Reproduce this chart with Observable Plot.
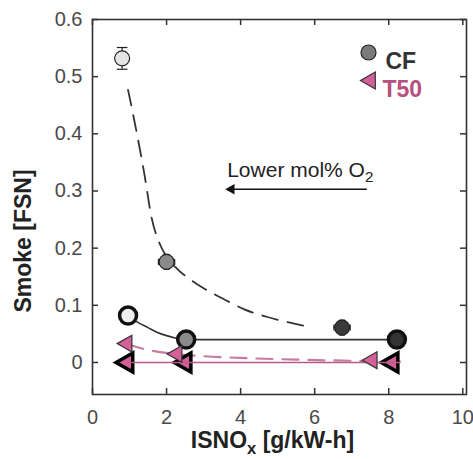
<!DOCTYPE html>
<html><head><meta charset="utf-8">
<script src="https://cdn.jsdelivr.net/npm/d3@7"></script>
<script src="https://cdn.jsdelivr.net/npm/@observablehq/plot@0.6"></script>
<style>body{margin:0;background:#fff}</style>
</head><body><div id="chart"></div>
<script>
// ---- tick labels ----
const xTicks = [0, 2, 4, 6, 8, 10];
const yTicks = [0, 0.1, 0.2, 0.3, 0.4, 0.5, 0.6];

// ---- CF, dashed-fit series (filled circles with error bars) ----
const cfDashX = [0.8, 2.0, 6.74];
const cfDashY = [0.532, 0.176, 0.061];
const cfDashErrY = [0.019, 0.013, 0.013];
const cfDashErrX = [0, 0.22, 0.22];
const cfDashFill = ["#e4e4e4", "#8a8a8a", "#3a3a3a"];
const cfDashFitX = [0.96, 1.2, 1.4, 1.6, 1.8, 2.0, 2.3, 2.6, 3.0, 3.6, 4.1, 4.7, 5.3, 5.9];
const cfDashFitY = [0.477, 0.40, 0.33, 0.252, 0.21, 0.185, 0.163, 0.147, 0.130, 0.109, 0.093, 0.080, 0.070, 0.062];

// ---- CF, solid-fit series (thick outlined circles) ----
const cfSolidX = [0.96, 2.53, 8.22];
const cfSolidY = [0.082, 0.040, 0.040];
const cfSolidFill = ["#eeeeee", "#8a8a8a", "#333333"];
const cfSolidFitX = [0.96, 1.2, 1.5, 1.74, 2.0, 2.23, 2.53, 8.22];
const cfSolidFitY = [0.082, 0.071, 0.061, 0.053, 0.047, 0.043, 0.040, 0.040];

// ---- T50, dashed-fit series (thin outlined triangles) ----
const t50DashX = [0.88, 2.23, 7.5];
const t50DashY = [0.033, 0.015, 0.004];
const t50DashFitX = [0.95, 1.5, 2.23, 3.0, 4.0, 5.5, 7.0, 8.3];
const t50DashFitY = [0.032, 0.022, 0.015, 0.011, 0.008, 0.005, 0.003, 0.002];

// ---- T50, solid-fit series (thick outlined triangles) ----
const t50SolidX = [0.88, 2.45, 8.04];
const t50SolidY = [0, 0, 0];
const t50SolidFitX = [1.0, 8.3];
const t50SolidFitY = [0, 0];

// ---- legend / annotation ----
const legendLabels = ["CF", "T50"];
const annotationText = "Lower mol% O_{2}";
const arrowFrom = 7.42, arrowTo = 3.72, arrowY = 0.303;
const annotationX = 5.61, annotationY = 0.337;

const pink = "#d4609a";
const pinkLine = "#b85a88";
const pinkText = "#b5507f";

const xDomain = [0, 10.1];
const yDomain = [-0.056, 0.6];
const W = 473, H = 459, mL = 92, mR = 7, mT = 19, mB = 65;

const zipXY = (xs, ys, extra = {}) => xs.map((x, i) => {
  const o = {x, y: ys[i]};
  for (const k in extra) o[k] = extra[k][i];
  return o;
});

const cfDash = zipXY(cfDashX, cfDashY, {ey: cfDashErrY, ex: cfDashErrX, fill: cfDashFill});
const cfDashFit = zipXY(cfDashFitX, cfDashFitY);
const cfSolid = zipXY(cfSolidX, cfSolidY, {fill: cfSolidFill});
const cfSolidFit = zipXY(cfSolidFitX, cfSolidFitY);
const t50Dash = zipXY(t50DashX, t50DashY);
const t50DashFit = zipXY(t50DashFitX, t50DashFitY);
const t50Solid = zipXY(t50SolidX, t50SolidY);
const t50SolidFit = zipXY(t50SolidFitX, t50SolidFitY);

// error bar caps
const capsV = [], capsH = [];
cfDash.forEach((d, i) => {
  const w = i === 0 ? 11 : 3.5;
  capsV.push({x: d.x, y: d.y + d.ey, w}, {x: d.x, y: d.y - d.ey, w});
  if (d.ex > 0) capsH.push({x: d.x + d.ex, y: d.y, w: 3.5}, {x: d.x - d.ex, y: d.y, w: 3.5});
});

// custom symbols
const rOf = size => Math.sqrt(size / Math.PI);
const triLeft = {draw(ctx, size) {
  const r = rOf(size);
  ctx.moveTo(-r, 0); ctx.lineTo(r * 0.85, -r * 1.05); ctx.lineTo(r * 0.85, r * 1.05); ctx.closePath();
}};
const capHoriz = {draw(ctx, size) { const r = rOf(size); ctx.moveTo(-r, 0); ctx.lineTo(r, 0); }};
const capVert = {draw(ctx, size) { const r = rOf(size); ctx.moveTo(0, -r); ctx.lineTo(0, r); }};

// inward tick length, expressed through the scales' px-per-unit
const T = 6;
const dyT = T * (yDomain[1] - yDomain[0]) / (H - mT - mB);
const dxT = T * (xDomain[1] - xDomain[0]) / (W - mL - mR);
const tickStroke = {stroke: "#333", strokeWidth: 1.5};

const font = "'Liberation Sans', Arial, Helvetica, sans-serif";

const svg = Plot.plot({
  width: W,
  height: H,
  marginLeft: mL,
  marginRight: mR,
  marginTop: mT,
  marginBottom: mB,
  style: {fontFamily: font, background: "white", overflow: "visible"},
  x: {domain: xDomain},
  y: {domain: yDomain},
  marks: [
    // tick labels
    Plot.axisX(xTicks, {anchor: "bottom", tickSize: 0, tickPadding: 15, fontSize: 20, fill: "#4a4a4a", label: null}),
    Plot.axisY(yTicks, {anchor: "left", tickSize: 0, tickPadding: 10, fontSize: 20, fill: "#4a4a4a", label: null,
      tickFormat: d => d === 0 ? "0" : d.toFixed(1)}),
    // inward ticks on all four sides
    Plot.ruleX(xTicks, {x: d => d, y1: yDomain[0], y2: yDomain[0] + dyT, ...tickStroke}),
    Plot.ruleX(xTicks, {x: d => d, y1: yDomain[1] - dyT, y2: yDomain[1], ...tickStroke}),
    Plot.ruleY(yTicks, {y: d => d, x1: xDomain[0], x2: xDomain[0] + dxT, ...tickStroke}),
    Plot.ruleY(yTicks, {y: d => d, x1: xDomain[1] - dxT, x2: xDomain[1], ...tickStroke}),

    // fit lines
    Plot.line(cfDashFit, {x: "x", y: "y", curve: "monotone-x", stroke: "#333", strokeWidth: 1.8, strokeDasharray: "16,10"}),
    Plot.line(t50DashFit, {x: "x", y: "y", curve: "monotone-x", stroke: pinkLine, strokeWidth: 2.2, strokeDasharray: "16,10", strokeOpacity: 0.8}),
    Plot.line(cfSolidFit, {x: "x", y: "y", curve: "monotone-x", stroke: "#333", strokeWidth: 1.6}),

    // error bars
    Plot.ruleX(cfDash, {x: "x", y1: d => d.y - d.ey, y2: d => d.y + d.ey, stroke: "#222", strokeWidth: 1.2}),
    Plot.ruleY(cfDash.filter(d => d.ex > 0), {y: "y", x1: d => d.x - d.ex, x2: d => d.x + d.ex, stroke: "#222", strokeWidth: 1.2}),
    Plot.dot(capsV, {x: "x", y: "y", r: "w", symbol: capHoriz, stroke: "#222", strokeWidth: 1.2, fill: "none"}),
    Plot.dot(capsH, {x: "x", y: "y", r: "w", symbol: capVert, stroke: "#222", strokeWidth: 1.2, fill: "none"}),

    // CF circles
    Plot.dot(cfDash, {x: "x", y: "y", r: 7.5, fill: "fill", stroke: "#222", strokeWidth: 1.2}),
    Plot.dot(cfSolid, {x: "x", y: "y", r: 8.5, fill: "fill", stroke: "#111", strokeWidth: 3.5}),

    // T50 triangles
    Plot.dot(t50Solid, {x: "x", y: "y", r: 9, symbol: triLeft, fill: pink, stroke: "#000", strokeWidth: 3.5, strokeLinejoin: "miter"}),
    Plot.line(t50SolidFit, {x: "x", y: "y", stroke: pinkLine, strokeWidth: 1.6}),
    Plot.dot(t50Dash, {x: "x", y: "y", r: 8, symbol: triLeft, fill: pink, stroke: "#333", strokeWidth: 1.2}),

    // annotation
    Plot.text([annotationText], {x: () => annotationX, y: () => annotationY, text: d => d, fontSize: 21, fill: "#222", textAnchor: "middle"}),
    Plot.ruleY([arrowY], {x1: () => arrowFrom, x2: () => arrowTo, y: d => d, stroke: "#111", strokeWidth: 1.4}),
    Plot.dot([arrowY], {x: () => arrowTo, y: d => d, r: 5, symbol: triLeft, fill: "#111", stroke: "none"}),

    // legend (inside frame, top-right)
    Plot.dot([legendLabels[0]], {frameAnchor: "top-right", dx: -98, dy: 33, r: 7.5, fill: "#7a7a7a", stroke: "#222", strokeWidth: 1.2}),
    Plot.text([legendLabels[0]], {frameAnchor: "top-right", dx: -81, dy: 33, text: d => d, textAnchor: "start", fontSize: 23, fontWeight: "bold", fill: "#333"}),
    Plot.dot([legendLabels[1]], {frameAnchor: "top-right", dx: -98, dy: 61, r: 8, symbol: triLeft, fill: pink, stroke: "#333", strokeWidth: 1.2}),
    Plot.text([legendLabels[1]], {frameAnchor: "top-right", dx: -84, dy: 61, text: d => d, textAnchor: "start", fontSize: 23, fontWeight: "bold", fill: pinkText}),

    // axis labels
    Plot.text(["ISNO_{x} [g/kW-h]"], {frameAnchor: "bottom", dx: -7, dy: 53, text: d => d, textAnchor: "middle", fontSize: 23, fontWeight: "bold", fill: "#222"}),
    Plot.text(["Smoke [FSN]"], {frameAnchor: "left", dx: -69, dy: 34, rotate: -90, text: d => d, textAnchor: "middle", fontSize: 23, fontWeight: "bold", fill: "#222"}),

    Plot.frame({stroke: "#333", strokeWidth: 1.6})
  ]
});

// subscripts
d3.select(svg).selectAll("text").each(function() {
  const t = this.textContent;
  const m = t.match(/^(.*?)_\{(.*?)\}(.*)$/);
  if (!m) return;
  const el = d3.select(this);
  el.text(null);
  el.append("tspan").text(m[1]);
  el.append("tspan").attr("font-size", "72%").attr("dy", "0.38em").text(m[2]);
  if (m[3]) el.append("tspan").attr("dy", "-0.27em").text(m[3]);
});

document.getElementById("chart").appendChild(svg);
</script>
</body></html>
